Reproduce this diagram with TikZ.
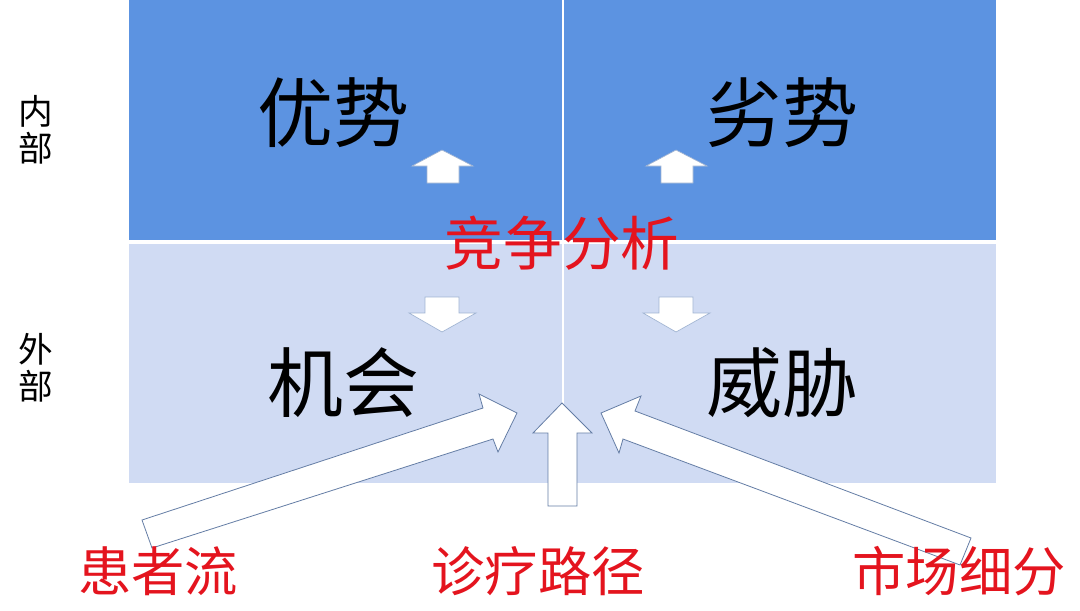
\documentclass[tikz,border=0pt]{standalone}
\usepackage{fontspec}
\newfontfamily\cjk{Noto Sans CJK SC}

\begin{document}
\begin{tikzpicture}[x=0.75pt,y=0.75pt,yscale=-1,xscale=1]
	\tikzset{
		big/.style={font=\cjk\fontsize{57}{60}\selectfont, inner sep=0pt, text=black},
		mid/.style={font=\cjk\fontsize{44}{48}\selectfont, inner sep=0pt, text={rgb, 255:red, 228; green, 20; blue, 30 }},
		low/.style={font=\cjk\fontsize{40}{44}\selectfont, inner sep=0pt, text={rgb, 255:red, 228; green, 20; blue, 30 }},
		side/.style={font=\cjk\fontsize{26}{28}\selectfont, inner sep=0pt, align=center, text=black},
		blockarrow/.style={draw={rgb, 255:red, 100; green, 125; blue, 165 }, line width=0.6pt, fill=white, line join=miter},
		softarrow/.style={draw={rgb, 255:red, 160; green, 180; blue, 210 }, line width=0.5pt, fill=white}
	}
	\useasboundingbox (0,0) rectangle (1080,610);
	\fill [white] (0,0) rectangle (1080,610);
	% quadrants
	\fill [color={rgb, 255:red, 92; green, 147; blue, 225 }] (129,0) rectangle (562,240);
	\fill [color={rgb, 255:red, 92; green, 147; blue, 225 }] (564,0) rectangle (996,240);
	\fill [color={rgb, 255:red, 208; green, 219; blue, 243 }] (129,244) rectangle (562,483);
	\fill [color={rgb, 255:red, 208; green, 219; blue, 243 }] (564,244) rectangle (996,483);
	% small arrows
	\draw [softarrow] (442,150) -- (473,166) -- (459,166) -- (459,183) -- (427,183) -- (427,166) -- (412,166) -- cycle ;
	\draw [softarrow] (676,150) -- (707,166) -- (693,166) -- (693,183) -- (661,183) -- (661,166) -- (646,166) -- cycle ;
	\draw [softarrow] (425,297) -- (459,297) -- (459,313) -- (476,313) -- (442,332) -- (409,313) -- (425,313) -- cycle ;
	\draw [softarrow] (659,297) -- (693,297) -- (693,313) -- (710,313) -- (676,332) -- (643,313) -- (659,313) -- cycle ;
	% big arrows
	\draw [blockarrow] (142,520) -- (483,408) -- (479,394) -- (517,413) -- (498,452) -- (493,439) -- (152,548) -- cycle ;
	\draw [blockarrow] (562,403) -- (592,433) -- (577,433) -- (577,506) -- (548,506) -- (548,433) -- (533,433) -- cycle ;
	\draw [blockarrow] (601,413) -- (641,396) -- (635,411) -- (971,538) -- (960,565) -- (623,439) -- (619,453) -- cycle ;
	% labels
	\node [big] (youshi) at (333,113) {优势};
	\node [big] (lieshi) at (782,113) {劣势};
	\node [big] (jihui) at (343,383) {机会};
	\node [big] (weixie) at (782,383) {威胁};
	\node [mid] (jingzheng) at (562,243) {竞争分析};
	\node [side] (neibu) at (36,130) {内\\部};
	\node [side] (waibu) at (36,368) {外\\部};
	\node [low] (huanzhe) at (158,571) {患者流};
	\node [low] (zhenliao) at (538,571) {诊疗路径};
	\node [low] (shichang) at (959,571) {市场细分};
\end{tikzpicture}
\end{document}
